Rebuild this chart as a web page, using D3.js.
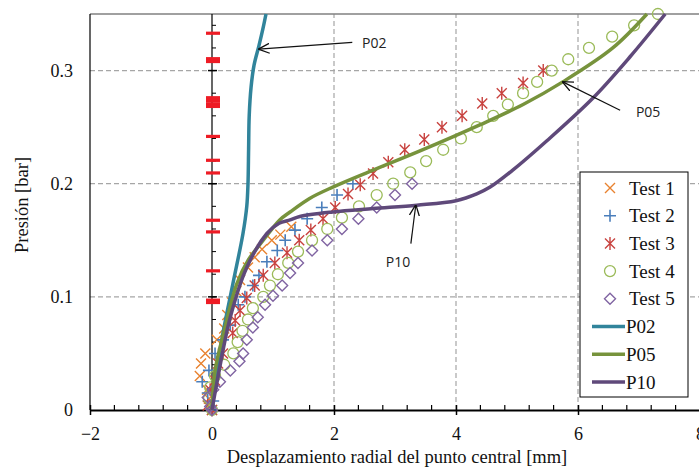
<!DOCTYPE html>
<html>
<head>
<meta charset="utf-8">
<script src="https://cdn.jsdelivr.net/npm/d3@7"></script>
<style>
  body { margin: 0; background: #fff; }
  .serif { font-family: "Liberation Serif", "Times New Roman", serif; }
  .note { font-family: "Open Sans", "Liberation Sans", sans-serif; font-size: 14px; fill: #222; }
</style>
</head>
<body>
<div id="chart"></div>
<script>
// ---- data (x: mm, y: bar) ----
const test1 = [[0,0],[-0.05,0.01],[-0.08,0.018],[-0.2,0.03],[-0.18,0.041],[-0.11,0.05],[0.08,0.062],[0.2,0.072],
  [0.25,0.084],[0.33,0.095],[0.4,0.105],[0.46,0.115],[0.59,0.126],[0.7,0.135],[0.82,0.142],[0.98,0.15],[1.12,0.155],[1.3,0.162]];
const test2 = [[0,0],[0.02,0.008],[-0.07,0.015],[-0.16,0.025],[-0.05,0.035],[0.05,0.05],[0.18,0.062],[0.3,0.075],
  [0.43,0.093],[0.54,0.1],[0.67,0.11],[0.77,0.119],[0.9,0.131],[1.07,0.141],[1.2,0.15],[1.36,0.159],[1.56,0.169],
  [1.8,0.179],[2.05,0.19],[2.31,0.2]];
const test3 = [[0,0],[-0.07,0.004],[-0.03,0.018],[0.05,0.026],[0.1,0.041],[0.18,0.05],[0.34,0.068],[0.38,0.079],
  [0.46,0.088],[0.57,0.099],[0.7,0.11],[0.84,0.119],[1.03,0.13],[1.23,0.139],[1.43,0.15],[1.62,0.159],[1.82,0.169],
  [2.02,0.179],[2.23,0.191],[2.43,0.199],[2.64,0.209],[2.89,0.219],[3.16,0.23],[3.48,0.239],[3.77,0.25],[4.1,0.26],
  [4.43,0.271],[4.75,0.28],[5.1,0.289],[5.43,0.3]];
const test4 = [[0,0],[-0.05,0.01],[-0.03,0.02],[0.05,0.03],[0.2,0.04],[0.35,0.05],[0.42,0.06],[0.5,0.07],[0.59,0.08],
  [0.67,0.09],[0.84,0.1],[0.95,0.11],[1.08,0.12],[1.25,0.13],[1.41,0.14],[1.64,0.15],[1.89,0.16],[2.13,0.17],
  [2.41,0.18],[2.7,0.19],[2.97,0.2],[3.25,0.21],[3.51,0.22],[3.79,0.23],[4.08,0.24],[4.34,0.25],[4.61,0.26],
  [4.85,0.27],[5.1,0.28],[5.33,0.29],[5.57,0.3],[5.84,0.31],[6.18,0.32],[6.56,0.33],[6.92,0.34],[7.31,0.35]];
const test5 = [[0,0],[-0.03,0.003],[-0.07,0.011],[0.02,0.018],[0.13,0.025],[0.3,0.035],[0.45,0.043],[0.51,0.05],
  [0.57,0.062],[0.67,0.073],[0.75,0.082],[0.87,0.093],[1.0,0.101],[1.15,0.11],[1.28,0.121],[1.41,0.13],[1.64,0.141],
  [1.89,0.15],[2.13,0.16],[2.4,0.169],[2.7,0.179],[3.0,0.19],[3.28,0.2]];
const p02 = [[0,0],[0.016,0.009],[0.08,0.035],[0.18,0.068],[0.344,0.112],[0.508,0.156],[0.57,0.18],[0.59,0.2],
  [0.6,0.23],[0.61,0.26],[0.64,0.285],[0.69,0.305],[0.77,0.322],[0.835,0.337],[0.885,0.35]];
const p05 = [[0,0],[0.05,0.035],[0.2,0.07],[0.41,0.112],[0.6,0.133],[0.84,0.15],[1.11,0.168],[1.28,0.175],[1.6,0.187],
  [1.98,0.197],[2.64,0.212],[3.41,0.229],[4.39,0.252],[5.1,0.27],[5.75,0.29],[6.57,0.32],[7.13,0.35]];
const p10 = [[0,0],[0.08,0.024],[0.3,0.082],[0.57,0.126],[0.9,0.156],[1.1,0.165],[1.28,0.168],[1.44,0.171],[1.98,0.175],
  [2.64,0.178],[3.36,0.181],[4.0,0.185],[4.34,0.191],[4.56,0.197],[4.93,0.212],[5.49,0.238],[6.25,0.276],[6.85,0.312],[7.43,0.35]];
// red marks standing on the y axis
const axisMarks = [0.333,0.3105,0.308,0.276,0.2736,0.2707,0.2683,0.2418,0.2207,0.2095,0.1677,0.1574,0.123,0.0971,0.095];

const xMajor = [-2,0,2,4,6,8];
const yMajor = [0,0.1,0.2,0.3];
const xGrid = [2,4,6];
const yGrid = [0.1,0.2,0.3];

const W = 699, H = 470;
const margin = {top: 14, right: -1, bottom: 60, left: 90};

const svg = d3.select("#chart").append("svg").attr("width", W).attr("height", H);

const x = d3.scaleLinear().domain([-2, 8]).range([margin.left, W - margin.right]);
const y = d3.scaleLinear().domain([0, 0.35]).range([H - margin.bottom, margin.top]);

// grid
svg.append("g").selectAll("line").data(xGrid).join("line")
  .attr("x1", d => x(d)).attr("x2", d => x(d)).attr("y1", y(0)).attr("y2", y(0.35))
  .attr("stroke", "#a6a6a6").attr("stroke-width", 1.2).attr("stroke-dasharray", "5,3");
svg.append("g").selectAll("line").data(yGrid).join("line")
  .attr("x1", x(-2)).attr("x2", x(8)).attr("y1", d => y(d)).attr("y2", d => y(d))
  .attr("stroke", "#a6a6a6").attr("stroke-width", 1.2).attr("stroke-dasharray", "5,3");

// top border
svg.append("line").attr("x1", x(-2)).attr("x2", x(8)).attr("y1", y(0.35)).attr("y2", y(0.35))
  .attr("stroke", "#808080").attr("stroke-width", 1.5);
// left border
svg.append("line").attr("x1", x(-2)).attr("x2", x(-2)).attr("y1", y(0)).attr("y2", y(0.35))
  .attr("stroke", "#000").attr("stroke-width", 1.2);

// x axis
const xAxis = svg.append("g").attr("transform", `translate(0,${y(0)})`)
  .call(d3.axisBottom(x).tickValues(xMajor).tickSize(5).tickSizeOuter(0).tickPadding(12).tickFormat(d3.format("d")));
xAxis.select(".domain").attr("stroke-width", 2);
xAxis.selectAll(".tick line").attr("y1", -5).attr("y2", 5).attr("stroke-width", 1.5);
xAxis.selectAll(".tick text").attr("class", "serif").attr("font-size", 18).attr("fill", "#111");
svg.append("g").selectAll("line").data(d3.range(-2, 8.01, 0.4).filter(v => Math.abs(v / 2 - Math.round(v / 2)) > 0.01))
  .join("line").attr("x1", d => x(d)).attr("x2", d => x(d)).attr("y1", y(0) - 5).attr("y2", y(0))
  .attr("stroke", "#000").attr("stroke-width", 1.2);

// y axis labels on the left border
const yAxis = svg.append("g").attr("transform", `translate(${x(-2)},0)`)
  .call(d3.axisLeft(y).tickValues(yMajor).tickSize(0).tickPadding(17).tickFormat(d => d === 0 ? "0" : d3.format(".1f")(d)));
yAxis.select(".domain").remove();
yAxis.selectAll(".tick text").attr("class", "serif").attr("font-size", 18).attr("fill", "#111");

// y axis line with ticks at x = 0
svg.append("line").attr("x1", x(0)).attr("x2", x(0)).attr("y1", y(0)).attr("y2", y(0.35))
  .attr("stroke", "#000").attr("stroke-width", 1.2);
svg.append("g").selectAll("line").data(d3.range(0, 0.351, 0.02))
  .join("line").attr("x1", x(0)).attr("x2", x(0) + 4).attr("y1", d => y(d)).attr("y2", d => y(d))
  .attr("stroke", "#000").attr("stroke-width", 1);
svg.append("g").selectAll("line").data(yMajor)
  .join("line").attr("x1", x(0) - 4).attr("x2", x(0) + 5).attr("y1", d => y(d)).attr("y2", d => y(d))
  .attr("stroke", "#000").attr("stroke-width", 1.5);

// red marks on the axis
svg.append("g").selectAll("rect").data(axisMarks).join("rect")
  .attr("x", x(0) - 6).attr("y", d => y(d) - 1.6).attr("width", 14).attr("height", 3.2)
  .attr("fill", "#ee1c25");

// marker symbols
const markers = {
  cross: (g, c) => g.append("path").attr("d", "M-5,-5L5,5M-5,5L5,-5").attr("stroke", c).attr("stroke-width", 1.4).attr("fill", "none"),
  plus: (g, c) => g.append("path").attr("d", "M-6,0L6,0M0,-6L0,6").attr("stroke", c).attr("stroke-width", 1.6).attr("fill", "none"),
  star: (g, c) => g.append("path").attr("d", "M-5,-5L5,5M-5,5L5,-5M0,-6.5L0,6.5").attr("stroke", c).attr("stroke-width", 1.4).attr("fill", "none"),
  circle: (g, c) => g.append("circle").attr("r", 5.5).attr("stroke", c).attr("stroke-width", 1.3).attr("fill", "none"),
  diamond: (g, c) => g.append("path").attr("d", "M0,-5.5L5.5,0L0,5.5L-5.5,0Z").attr("stroke", c).attr("stroke-width", 1.4).attr("fill", "none")
};

const tests = [
  {name: "Test 1", data: test1, color: "#e8822f", mark: "cross"},
  {name: "Test 2", data: test2, color: "#4a7ebb", mark: "plus"},
  {name: "Test 3", data: test3, color: "#c8423f", mark: "star"},
  {name: "Test 4", data: test4, color: "#9bbb59", mark: "circle"},
  {name: "Test 5", data: test5, color: "#8064a2", mark: "diamond"}
];
const curves = [
  {name: "P02", data: p02, color: "#31849b"},
  {name: "P05", data: p05, color: "#77933c"},
  {name: "P10", data: p10, color: "#5f497a"}
];

tests.forEach(t => {
  svg.append("g").selectAll("g").data(t.data).join("g")
    .attr("transform", d => `translate(${x(d[0])},${y(d[1])})`)
    .each(function () { markers[t.mark](d3.select(this), t.color); });
});

const line = d3.line().x(d => x(d[0])).y(d => y(d[1])).curve(d3.curveCatmullRom.alpha(0.5));
curves.forEach(c => {
  svg.append("path").datum(c.data).attr("d", line)
    .attr("fill", "none").attr("stroke", c.color).attr("stroke-width", 3.5).attr("stroke-linejoin", "round");
});

// annotations
svg.append("defs").append("marker").attr("id", "arr").attr("viewBox", "0 0 10 10")
  .attr("refX", 9.5).attr("refY", 5).attr("markerWidth", 11).attr("markerHeight", 11)
  .attr("markerUnits", "userSpaceOnUse").attr("orient", "auto")
  .append("path").attr("d", "M0,0.5L10,5L0,9.5").attr("fill", "none").attr("stroke", "#111").attr("stroke-width", 1.2);

const notes = [
  {text: "P02", from: [2.3, 0.325], to: [0.77, 0.319], tx: 2.46, ty: 0.324},
  {text: "P05", from: [6.69, 0.265], to: [5.75, 0.29], tx: 6.95, ty: 0.263},
  {text: "P10", from: [3.26, 0.147], to: [3.34, 0.181], tx: 2.85, ty: 0.131}
];
notes.forEach(n => {
  svg.append("line").attr("x1", x(n.from[0])).attr("y1", y(n.from[1])).attr("x2", x(n.to[0])).attr("y2", y(n.to[1]))
    .attr("stroke", "#111").attr("stroke-width", 1.2).attr("marker-end", "url(#arr)");
  svg.append("text").attr("class", "note").attr("x", x(n.tx)).attr("y", y(n.ty)).attr("dy", "0.35em").text(n.text);
});

// axis titles
svg.append("text").attr("class", "serif").attr("x", 397).attr("y", 457).attr("dy", "0.35em").attr("text-anchor", "middle")
  .attr("font-size", 18.5).attr("fill", "#111").text("Desplazamiento radial del punto central [mm]");
svg.append("text").attr("class", "serif").attr("transform", "translate(22,205) rotate(-90)").attr("dy", "0.35em")
  .attr("text-anchor", "middle").attr("font-size", 18.5).attr("fill", "#111").text("Presión [bar]");

// legend
const lg = svg.append("g").attr("transform", "translate(580,172)");
lg.append("rect").attr("width", 108).attr("height", 225).attr("fill", "#fff").attr("stroke", "#000").attr("stroke-width", 1);
const items = tests.concat(curves);
items.forEach((it, i) => {
  const g = lg.append("g").attr("transform", `translate(0,${16 + i * 27.7})`);
  if (it.mark) markers[it.mark](g.append("g").attr("transform", "translate(30,0)"), it.color);
  else g.append("line").attr("x1", 12).attr("x2", 45).attr("stroke", it.color).attr("stroke-width", 3.5);
  g.append("text").attr("class", "serif").attr("x", it.mark ? 49 : 46).attr("dy", "0.35em")
    .attr("font-size", 19).attr("fill", "#111").text(it.name);
});
</script>
</body>
</html>
